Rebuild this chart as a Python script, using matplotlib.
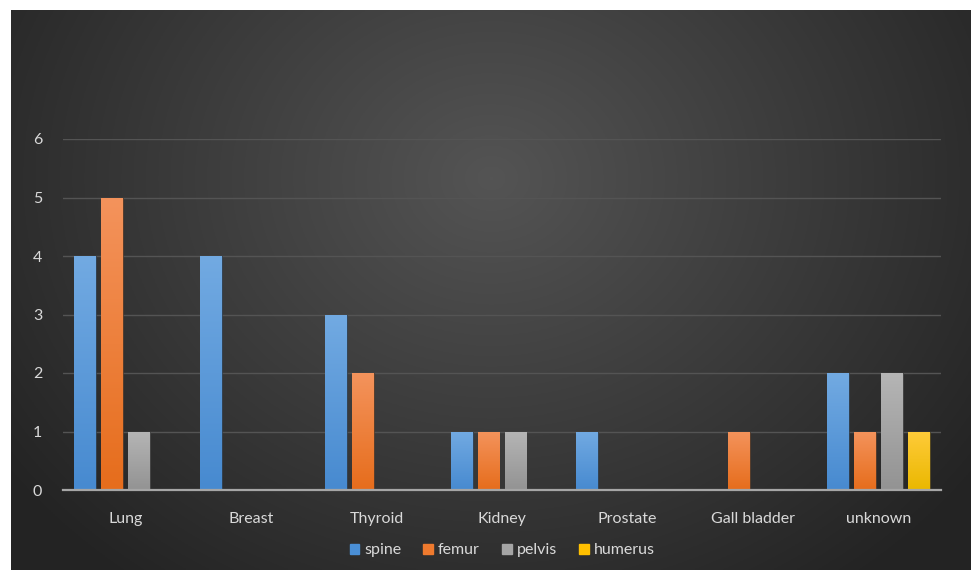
import matplotlib
matplotlib.use('Agg')
import matplotlib.pyplot as plt
from matplotlib.patches import Rectangle
import numpy as np

# data
categories = ['Lung', 'Breast', 'Thyroid', 'Kidney', 'Prostate', 'Gall bladder', 'unknown']
spine = [4, 4, 3, 1, 1, 0, 2]
femur = [5, 0, 2, 1, 0, 1, 1]
pelvis = [1, 0, 0, 1, 0, 0, 2]
humerus = [0, 0, 0, 0, 0, 0, 1]
series_names = ['spine', 'femur', 'pelvis', 'humerus']
y_ticks = [0, 1, 2, 3, 4, 5, 6]

# (top colour, bottom colour, legend colour)
colors = [('#72aae2', '#478ad0', '#4a8fd6'),
          ('#f4935c', '#e66d1c', '#ef7a2e'),
          ('#b5b5b5', '#939393', '#a5a5a5'),
          ('#ffcb3a', '#eab800', '#ffc000')]

plt.rcParams['font.family'] = ['Lato', 'DejaVu Sans']
text_col = '#d9d9d9'

fig = plt.figure(figsize=(9.71, 5.73), dpi=100)
fig.patch.set_facecolor('white')

# dark radial gradient background of the chart area
bg = fig.add_axes([11 / 971, 3 / 573, 960 / 971, 560 / 573])
bg.set_axis_off()
yy, xx = np.mgrid[0:1:300j, 0:1:500j]
r = np.sqrt(((xx - 0.5) / 0.62) ** 2 + ((yy - 0.3) / 0.9) ** 2)
shade = np.clip(0.33 - 0.19 * r, 0.14, 0.33)
bg.imshow(np.dstack([shade] * 3), aspect='auto', extent=[0, 1, 1, 0])
bg.set_xlim(0, 1)
bg.set_ylim(1, 0)

ax = fig.add_axes([63 / 971, 1 - 490 / 573, 878 / 971, 351 / 573])
ax.patch.set_alpha(0)

x = np.arange(len(categories))
width = 0.175
step = 0.215
all_series = [spine, femur, pelvis, humerus]
grad = np.linspace(0, 1, 100).reshape(-1, 1)

handles = []
for i, (vals, name) in enumerate(zip(all_series, series_names)):
    top, bottom, leg = colors[i]
    pos = x + (i - 1.5) * step
    bars = ax.bar(pos, vals, width, color=leg, edgecolor='#2a2a2a',
                  linewidth=0.4, zorder=3, label=name)
    cmap = matplotlib.colors.LinearSegmentedColormap.from_list(name, [bottom, top])
    for b in bars:
        h = b.get_height()
        if h <= 0:
            continue
        bx = b.get_x()
        im = ax.imshow(grad, cmap=cmap, aspect='auto', origin='lower',
                       extent=[bx, bx + width, 0, h], zorder=4)
        im.set_clip_path(b)
    handles.append(Rectangle((0, 0), 1, 1, color=leg))

ax.set_xlim(-0.5, len(categories) - 0.5)
ax.set_ylim(0, 6)
ax.set_yticks(y_ticks)
ax.set_xticks(x)
ax.set_xticklabels(categories)
ax.grid(axis='y', color='#545454', linewidth=1.0, zorder=0)
ax.set_axisbelow(True)
for s in ['top', 'right', 'left']:
    ax.spines[s].set_visible(False)
ax.spines['bottom'].set_color('#a6a6a6')
ax.spines['bottom'].set_linewidth(1.6)
ax.spines['bottom'].set_zorder(5)
ax.tick_params(axis='both', length=0, colors=text_col, labelsize=11.5)
ax.tick_params(axis='y', pad=15)
ax.tick_params(axis='x', pad=16)

leg = ax.legend(handles, series_names, loc='center', bbox_to_anchor=(0.5, -0.172),
                ncol=4, frameon=False, fontsize=11.5, handlelength=0.6,
                handleheight=0.6, handletextpad=0.3, columnspacing=1.4)
for t in leg.get_texts():
    t.set_color(text_col)

fig.savefig('out.png', dpi=100, facecolor=fig.get_facecolor())
